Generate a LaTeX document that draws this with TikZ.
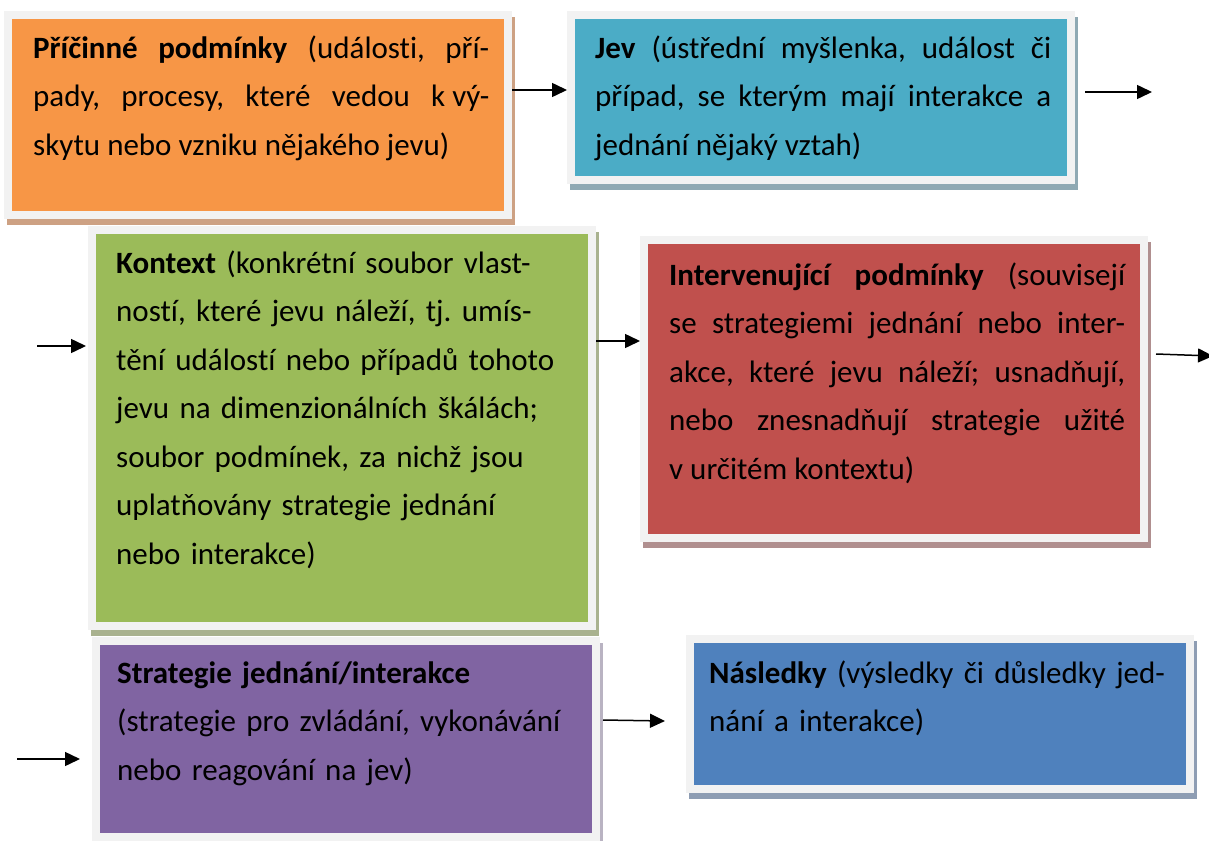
\documentclass[tikz,border=0pt]{standalone}
\usepackage{fontspec}
\setmainfont{Carlito}[Ligatures=NoCommon]
\usepackage{tikz}
\usetikzlibrary{arrows.meta}
\definecolor{framegray}{HTML}{F2F2F2}
\definecolor{causfill}{HTML}{F79646}
\definecolor{causshade}{HTML}{CDA183}
\definecolor{jevfill}{HTML}{4BACC6}
\definecolor{jevshade}{HTML}{8FA9B3}
\definecolor{kontfill}{HTML}{9BBB59}
\definecolor{kontshade}{HTML}{A9B28F}
\definecolor{intfill}{HTML}{C0504D}
\definecolor{intshade}{HTML}{B08F8F}
\definecolor{stratfill}{HTML}{8064A2}
\definecolor{stratshade}{HTML}{B9B3C2}
\definecolor{nasfill}{HTML}{4F81BD}
\definecolor{nasshade}{HTML}{8E9DB3}
\tikzset{
  box/.style 2 args={draw=framegray, line width=8pt, fill=#1, outer sep=4pt,
    minimum width=500pt, anchor=north west,
    preaction={draw=#2, fill=#2, line width=8pt, transform canvas={xshift=3pt, yshift=-6pt}}},
  txt/.style={anchor=north west, inner sep=0pt, text width=456pt,
    font=\fontsize{31}{48.5}\selectfont\frenchspacing},
  arr/.style={line width=1.5pt, -{Triangle[length=15pt, width=14pt]}}
}
\newcommand{\tstrut}{\rule{0pt}{30pt}}
\hyphenpenalty=10000

\begin{document}
\begin{tikzpicture}[x=1pt, y=-1pt]
        \useasboundingbox (0,0) rectangle (1209,840);

        \node[box={causfill}{causshade}, minimum height=200pt] (caus) at (4,11) {};
        \node[box={jevfill}{jevshade}, minimum height=165pt] (jev) at (567,11) {};
        \node[box={kontfill}{kontshade}, minimum height=396pt] (kont) at (88,226) {};
        \node[box={intfill}{intshade}, minimum height=298pt] (interv) at (640,236) {};
        \node[box={stratfill}{stratshade}, minimum height=196pt] (strat) at (92,637) {};
        \node[box={nasfill}{nasshade}, minimum height=150pt] (nas) at (686,635) {};

        \node[txt, align=justify] (tcaus) at ([shift={(29,17)}]caus.north west)
          {\tstrut\textbf{Příčinné podmínky} (události, pří-\linebreak pady, procesy, které vedou \mbox{k vý-}\linebreak skytu nebo vzniku nějakého jevu)};
        \node[txt, align=justify] (tjev) at ([shift={(28,17)}]jev.north west)
          {\tstrut\textbf{Jev} (ústřední myšlenka, událost či\linebreak případ, se kterým mají interakce a\linebreak jednání nějaký vztah)};
        \node[txt, align=left] (tkont) at ([shift={(28,17)}]kont.north west)
          {\tstrut\textbf{Kontext} (konkrétní soubor vlast-\\ností, které jevu náleží, tj. umís-\\tění událostí nebo případů tohoto\\jevu na dimenzionálních škálách;\\soubor podmínek, za nichž jsou\\uplatňovány strategie jednání\\nebo interakce)};
        \node[txt, align=justify] (tinterv) at ([shift={(29,19)}]interv.north west)
          {\tstrut\textbf{Intervenující podmínky} (souvisejí\linebreak se strategiemi jednání nebo inter-\linebreak akce, které jevu náleží; usnadňují,\linebreak nebo znesnadňují strategie užité\linebreak v~určitém kontextu)};
        \node[txt, align=left] (tstrat) at ([shift={(25,16)}]strat.north west)
          {\tstrut\textbf{Strategie jednání/interakce}\\(strategie pro zvládání, vykonávání\\nebo reagování na jev)};
        \node[txt, align=left] (tnas) at ([shift={(23,18)}]nas.north west)
          {\tstrut\textbf{Následky} (výsledky či důsledky jed-\\nání a interakce)};

        \coordinate (out1) at (1152,92);
        \coordinate (in2) at (37,346);
        \coordinate (out2) at (1213,356);
        \coordinate (in3) at (17,759);

        \draw[arr] ([yshift=25pt]caus.east) -- ([yshift=25pt]caus.east -| jev.west);
        \draw[arr] ([xshift=10pt]jev.east |- out1) -- (out1);
        \draw[arr] (in2) -- ([xshift=-2pt]kont.west |- in2);
        \draw[arr] ([yshift=87pt]kont.east) -- ([yshift=87pt]kont.east -| interv.west);
        \draw[arr] ([xshift=8pt, yshift=35pt]interv.east) -- (out2);
        \draw[arr] (in3) -- ([xshift=-12pt, yshift=-20pt]strat.west);
        \draw[arr] ([xshift=3pt, yshift=19pt]strat.east) -- ([xshift=-21pt, yshift=18pt]strat.east -| nas.west);
\end{tikzpicture}
\end{document}
